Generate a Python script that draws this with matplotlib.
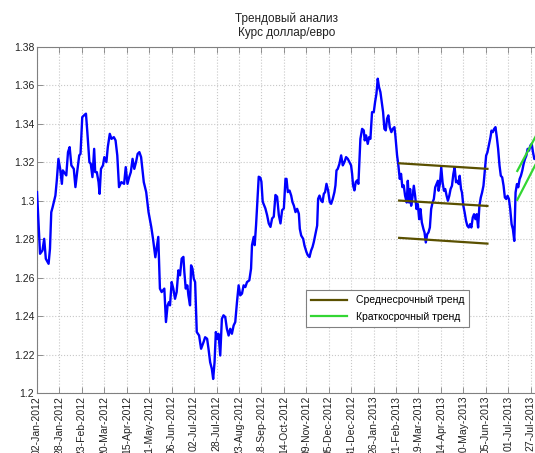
# -*- coding: utf-8 -*-
# Trend analysis chart, USD/EUR rate 2012-2013
import numpy as np
import pandas as pd
import matplotlib
matplotlib.use('Agg')
import matplotlib.pyplot as plt
import matplotlib.ticker as mticker

# =============================================================================
# Data
# =============================================================================
start_date = pd.Timestamp('2012-01-02')

# days after start_date
rate_days = [0, 3.5, 6.3, 8.3, 10.2, 13.4, 15.0, 16.5, 18.1, 21.3, 22.9, 24.8, 26.8, 28.8,
             29.9, 33.9, 35.9, 37.8, 39.8, 42.6, 44.5, 46.5, 48.9, 50.4, 52.4, 54.4, 56.7,
             58.3, 60.7, 62.3, 64.2, 66.2, 67.4, 69.3, 71.3, 72.5, 74.1, 76.4, 78.0, 80.4,
             82.0, 84.3, 86.3, 89.0, 91.0, 93.0, 95.0, 97.7, 100.9, 102.8, 104.8, 106.8,
             108.7, 110.7, 112.7, 114.7, 116.6, 118.6, 120.6, 123.7, 126.5, 129.2, 132.4,
             134.4, 137.1,
             140.5, 142.4, 144.4, 147.5, 149.4, 151.3, 152.9, 154.1, 156.0, 157.9, 159.9,
             161.8, 163.8, 165.7, 167.6, 169.6, 170.7, 172.3, 174.2, 175.4, 177.3, 178.5,
             180.1, 181.6, 183.2, 185.1, 187.8, 190.1, 192.9, 194.8, 197.1, 198.7, 200.6,
             202.6, 204.1, 205.7, 207.2, 208.8, 210.3, 212.3, 214.2, 216.1, 218.1, 220.0,
             222.0, 223.9, 225.8, 227.8, 229.7, 231.7, 233.6, 235.5, 237.5, 239.4, 241.4,
             243.3, 246.0, 248.0, 249.1, 251.1, 252.2, 253.8, 255.3, 256.9, 258.8, 260.0,
             261.5, 263.1, 264.6, 266.6, 268.5, 270.5, 272.4, 274.3, 276.3, 278.2, 280.2,
             282.1, 284.0, 286.0,
             287.9, 289.1, 290.6, 292.6, 294.5, 296.0, 297.6, 299.5, 301.4, 303.4, 304.5,
             306.1, 308.4, 309.9, 312.2, 313.8, 315.7, 317.6, 319.2, 320.7, 322.7, 324.6,
             325.7, 327.3, 329.2, 330.8, 332.3, 333.8, 335.4, 337.3, 339.2, 340.8, 342.7,
             344.6, 345.8, 347.0, 348.5, 350.4, 352.4, 354.3, 356.2, 358.1, 360.1, 362.0,
             363.9, 365.1, 366.2, 367.8, 369.3, 370.9, 372.4, 373.2, 374.7, 376.7, 378.6,
             379.7, 381.3, 383.2, 384.8, 386.3, 388.2, 390.2, 391.7, 393.3, 394.8, 396.3,
             397.9, 399.4, 401.0, 402.5, 404.1, 405.6, 407.1, 408.7, 410.6, 412.2, 414.1,
             415.2, 417.2, 418.7, 420.3, 421.8, 423.3, 424.9,
             426.5, 428.4, 429.6, 431.1, 432.3, 433.5, 435.0, 436.6, 438.1, 439.7, 441.2,
             442.8, 444.3, 445.9, 447.8, 449.0, 450.5, 452.1, 453.6, 455.2, 456.7, 458.3,
             459.8, 461.4, 462.9, 464.5, 465.3, 466.8, 468.4, 469.9, 471.5, 473.0, 474.6,
             476.1, 477.7, 479.2, 480.8, 482.4, 483.9, 485.5, 487.0, 488.6, 489.7, 491.3,
             492.4, 494.0, 495.5, 497.1, 498.6, 500.2, 501.8, 503.3, 504.9, 506.4, 508.0,
             509.5, 511.1, 512.6, 514.2, 515.7, 517.3, 518.8, 520.4, 521.9, 523.5, 525.4,
             526.6, 528.1, 529.7, 531.2, 532.8, 534.3, 535.9, 537.4, 539.0, 540.6, 542.1,
             543.7, 545.2, 546.8, 548.3, 549.9, 551.4, 553.0, 554.5, 556.1, 557.6, 559.2,
             560.7, 562.3, 563.8, 565.4, 567.0, 568.5, 570.1, 571.6, 573.2, 574.7, 576.3,
             577.8]

rate = [1.3045, 1.2724, 1.2741, 1.2802, 1.2698, 1.2672, 1.2750, 1.2940, 1.2967, 1.3027,
        1.3105, 1.3218, 1.3166, 1.3088, 1.3158, 1.3132, 1.3253, 1.3279, 1.3184, 1.3166,
        1.3071, 1.3149, 1.3236, 1.3244, 1.3435, 1.3444, 1.3453, 1.3357, 1.3201, 1.3192,
        1.3123, 1.3270, 1.3149, 1.3149, 1.3097, 1.3036, 1.3166, 1.3184, 1.3227, 1.3201,
        1.3279, 1.3348, 1.3322, 1.3331, 1.3314, 1.3236, 1.3071, 1.3097, 1.3088, 1.3175,
        1.3088, 1.3123, 1.3149, 1.3218, 1.3166, 1.3201, 1.3244, 1.3253, 1.3227, 1.3097,
        1.3045, 1.2941, 1.2863, 1.2802, 1.2706,
        1.2812, 1.2543, 1.2525, 1.2543, 1.2369, 1.2456, 1.2473, 1.2456, 1.2577, 1.2543,
        1.2490, 1.2525, 1.2638, 1.2612, 1.2699, 1.2708, 1.2630, 1.2543, 1.2560, 1.2508,
        1.2456, 1.2664, 1.2647, 1.2595, 1.2577, 1.2317, 1.2299, 1.2230, 1.2264, 1.2290,
        1.2282, 1.2230, 1.2160, 1.2125, 1.2073, 1.2160, 1.2317, 1.2282, 1.2308, 1.2195,
        1.2386, 1.2404, 1.2395, 1.2334, 1.2299, 1.2334, 1.2308, 1.2351, 1.2369, 1.2473,
        1.2560, 1.2508, 1.2517, 1.2560, 1.2551, 1.2577, 1.2586, 1.2647, 1.2769, 1.2812,
        1.2769, 1.2873, 1.2995, 1.3125, 1.3120, 1.3099, 1.2995, 1.2977, 1.2960, 1.2925,
        1.2882, 1.2864, 1.2908, 1.2917, 1.3030, 1.3021, 1.2925, 1.2882, 1.2951, 1.2960,
        1.3114, 1.3114, 1.3045, 1.3053, 1.3027, 1.2993, 1.2975, 1.2941, 1.2958, 1.2932,
        1.2854, 1.2819, 1.2802, 1.2767, 1.2733, 1.2716, 1.2707, 1.2741, 1.2759, 1.2785,
        1.2828, 1.2871, 1.3010, 1.3027, 1.3001, 1.2993, 1.3036, 1.3045, 1.3088, 1.3053,
        1.2993, 1.2984, 1.3010, 1.3045, 1.3080, 1.3158, 1.3166, 1.3192, 1.3236, 1.3184,
        1.3201, 1.3227, 1.3218, 1.3201, 1.3184, 1.3140, 1.3080, 1.3054, 1.3097, 1.3106,
        1.3088, 1.3166, 1.3322, 1.3374, 1.3366, 1.3314, 1.3340, 1.3296, 1.3331, 1.3322,
        1.3461, 1.3461, 1.3513, 1.3557, 1.3635, 1.3591, 1.3565, 1.3513, 1.3461, 1.3374,
        1.3366, 1.3427, 1.3444, 1.3383, 1.3357, 1.3374, 1.3383, 1.3340, 1.3236, 1.3184,
        1.3114, 1.3140, 1.3071, 1.3080,
        1.3026, 1.2991, 1.3104, 1.2991, 1.3061, 1.2974, 1.3017, 1.3078, 1.3026, 1.2957,
        1.2983, 1.2904, 1.2957, 1.2887, 1.2852, 1.2835, 1.2783, 1.2826, 1.2835, 1.2861,
        1.2957, 1.2991, 1.3009, 1.3070, 1.3087, 1.3104, 1.3052, 1.3087, 1.3174, 1.3096,
        1.3052, 1.3061, 1.3026, 1.3000, 1.3026, 1.3061, 1.3078, 1.3139, 1.3174, 1.3096,
        1.3104, 1.3087, 1.3130, 1.3061, 1.3043, 1.2974, 1.2939, 1.2896, 1.2870, 1.2861,
        1.2878, 1.2861, 1.2913, 1.2930, 1.2904, 1.2930, 1.2861, 1.2974, 1.3017, 1.3043,
        1.3078, 1.3157, 1.3235, 1.3252, 1.3287, 1.3330, 1.3365, 1.3357, 1.3374, 1.3383,
        1.3330, 1.3270, 1.3183, 1.3130, 1.3122, 1.3078, 1.3017, 1.3009, 1.3026, 1.3009,
        1.2957, 1.2878, 1.2852, 1.2791, 1.3043, 1.3087, 1.3070, 1.3113, 1.3130, 1.3157,
        1.3191, 1.3217, 1.3235, 1.3270, 1.3261, 1.3287, 1.3296, 1.3252, 1.3217, 1.3226]

# medium-term channel (three parallel lines)
mid_days = [419.6, 521.9]
mid_upper = [1.3195, 1.3166]
mid_center = [1.3001, 1.2973]
mid_lower = [1.2807, 1.2777]

# short-term channel (two parallel lines)
short_days = [556.5, 579.0]
short_upper = [1.3155, 1.3345]
short_lower = [1.3005, 1.3200]

tick_days = np.arange(0, 573, 26)
x_end_day = 579

title_text = 'Трендовый анализ\nКурс доллар/евро'
legend_labels = ['Среднесрочный тренд', 'Краткосрочный тренд']

def to_dates(days):
    return start_date + pd.to_timedelta(np.array(days, dtype=float), unit='D')

# =============================================================================
# Plotting
# =============================================================================
plt.rcParams['font.family'] = ['Liberation Sans', 'DejaVu Sans']
plt.rcParams['font.size'] = 7.5

fig = plt.figure(figsize=(5.35, 4.53), dpi=100)
ax = fig.add_axes([0.0692, 0.1325, 0.934, 0.7638])

ax.plot(to_dates(rate_days), rate, color='#0000ff', linewidth=1.7, zorder=3)

olive = '#5a5000'
green = '#33d633'
ax.plot(to_dates(mid_days), mid_upper, color=olive, linewidth=1.6, zorder=4,
        label=legend_labels[0])
ax.plot(to_dates(mid_days), mid_center, color=olive, linewidth=1.6, zorder=4)
ax.plot(to_dates(mid_days), mid_lower, color=olive, linewidth=1.6, zorder=4)
ax.plot(to_dates(short_days), short_upper, color=green, linewidth=1.6, zorder=4,
        label=legend_labels[1])
ax.plot(to_dates(short_days), short_lower, color=green, linewidth=1.6, zorder=4)

ax.set_xlim(to_dates([0])[0], to_dates([x_end_day])[0])
ax.set_ylim(1.2, 1.38)
ax.set_yticks(np.arange(1.2, 1.381, 0.02))
ax.yaxis.set_major_formatter(mticker.FuncFormatter(lambda v, p: '%g' % round(v, 2)))

tick_dates = to_dates(tick_days)
ax.set_xticks(tick_dates)
ax.set_xticklabels([d.strftime('%d-%b-%Y') for d in tick_dates], rotation=90)

ax.grid(True, linestyle=':', color='#c8c8c8', linewidth=0.8)
ax.tick_params(direction='in', top=True, right=False, length=4, width=0.6,
               colors='#808080', labelcolor='#222222', pad=2)
for s in ax.spines.values():
    s.set_color('#808080')
    s.set_linewidth(0.8)

ax.set_title(title_text, fontsize=8.5, color='#222222', pad=8, linespacing=1.2)

leg = ax.legend(loc='upper left', bbox_to_anchor=(0.527, 0.312), fontsize=7.5,
                frameon=True, fancybox=False, edgecolor='#808080', framealpha=1,
                handlelength=3.5, borderpad=0.5, labelspacing=0.6)
leg.get_frame().set_linewidth(0.8)

fig.savefig('out.png', dpi=100)
